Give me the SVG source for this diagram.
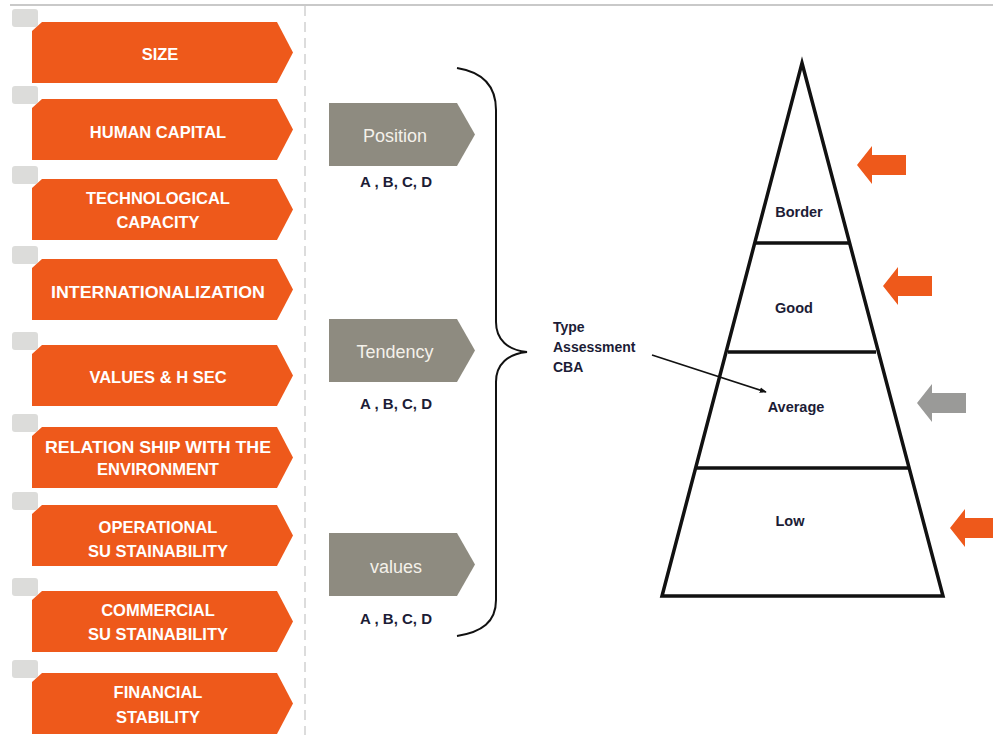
<svg xmlns="http://www.w3.org/2000/svg" width="993" height="735" viewBox="0 0 993 735">
  <defs>
    <style>
      .cat { fill: #ee591b; }
      .tab { fill: #dcdcda; }
      .crit { fill: #8e8b80; }
      .cat-t { font-family: "Liberation Sans", Arial, sans-serif; font-weight: bold; font-size: 16.5px; fill: #ffffff; text-anchor: middle; }
      .crit-t { font-family: "Liberation Sans", Arial, sans-serif; font-size: 18px; fill: #f4f1ea; text-anchor: middle; }
      .grade { font-family: "Liberation Sans", Arial, sans-serif; font-weight: bold; font-size: 15px; fill: #1c1c36; text-anchor: middle; }
      .lbl { font-family: "Liberation Sans", Arial, sans-serif; font-weight: bold; font-size: 14px; fill: #1c1c36; }
      .lvl { font-family: "Liberation Sans", Arial, sans-serif; font-weight: bold; font-size: 14.5px; fill: #1c1c36; text-anchor: middle; }
      .ink { fill: none; stroke: #111111; }
    </style>
    <!-- category chevron, 261 x 61, chamfered top-left corner -->
    <path id="chev" d="M10 0 H245 L261 30.5 L245 61 H0 V9 Z"/>
    <!-- small grey index tab behind each chevron -->
    <rect id="tabShape" x="-20" y="-13" width="26" height="18" rx="3"/>
    <!-- criterion chevron -->
    <path id="crit" d="M0 0 H128 L146 31.5 L128 63 H0 Z"/>
    <!-- left-pointing block arrow -->
    <path id="blk" d="M0 0 L15 -19 V-10 H49 V10 H15 V19 Z"/>
    <marker id="head" viewBox="0 0 10 10" refX="9" refY="5" markerWidth="7" markerHeight="7" orient="auto" markerUnits="userSpaceOnUse">
      <path d="M0 1 L10 5 L0 9 Z" fill="#111111"/>
    </marker>
  </defs>

  <rect width="993" height="735" fill="#ffffff"/>

  <!-- frame lines -->
  <line x1="10" y1="5" x2="993" y2="5" stroke="#c9c9c9" stroke-width="2"/>
  <line x1="305" y1="6" x2="305" y2="735" stroke="#dcdcdc" stroke-width="2" stroke-dasharray="10 6"/>

  <!-- category chevrons -->
  <g id="cat-size" transform="translate(32,22)">
    <use href="#tabShape" class="tab"/><use href="#chev" class="cat"/>
    <text class="cat-t" x="128" y="38">SIZE</text>
  </g>
  <g id="cat-human" transform="translate(32,99)">
    <use href="#tabShape" class="tab"/><use href="#chev" class="cat"/>
    <text class="cat-t" x="126" y="39">HUMAN CAPITAL</text>
  </g>
  <g id="cat-tech" transform="translate(32,179)">
    <use href="#tabShape" class="tab"/><use href="#chev" class="cat"/>
    <text class="cat-t" x="126" y="25">TECHNOLOGICAL</text>
    <text class="cat-t" x="126" y="49">CAPACITY</text>
  </g>
  <g id="cat-intl" transform="translate(32,259)">
    <use href="#tabShape" class="tab"/><use href="#chev" class="cat"/>
    <text class="cat-t" x="126" y="39" textLength="214" lengthAdjust="spacingAndGlyphs">INTERNATIONALIZATION</text>
  </g>
  <g id="cat-values" transform="translate(32,345)">
    <use href="#tabShape" class="tab"/><use href="#chev" class="cat"/>
    <text class="cat-t" x="126" y="38">VALUES &amp; H SEC</text>
  </g>
  <g id="cat-env" transform="translate(32,427)">
    <use href="#tabShape" class="tab"/><use href="#chev" class="cat"/>
    <text class="cat-t" x="126" y="26" textLength="226" lengthAdjust="spacingAndGlyphs">RELATION SHIP WITH THE</text>
    <text class="cat-t" x="126" y="48">ENVIRONMENT</text>
  </g>
  <g id="cat-oper" transform="translate(32,505)">
    <use href="#tabShape" class="tab"/><use href="#chev" class="cat"/>
    <text class="cat-t" x="126" y="28">OPERATIONAL</text>
    <text class="cat-t" x="126" y="52">SU STAINABILITY</text>
  </g>
  <g id="cat-comm" transform="translate(32,591)">
    <use href="#tabShape" class="tab"/><use href="#chev" class="cat"/>
    <text class="cat-t" x="126" y="25">COMMERCIAL</text>
    <text class="cat-t" x="126" y="49">SU STAINABILITY</text>
  </g>
  <g id="cat-fin" transform="translate(32,673)">
    <use href="#tabShape" class="tab"/><use href="#chev" class="cat"/>
    <text class="cat-t" x="126" y="25">FINANCIAL</text>
    <text class="cat-t" x="126" y="50">STABILITY</text>
  </g>

  <!-- criteria -->
  <g id="crit-position" transform="translate(329,103)">
    <use href="#crit" class="crit"/>
    <text class="crit-t" x="66" y="39">Position</text>
    <text class="grade" x="67" y="84">A , B, C, D</text>
  </g>
  <g id="crit-tendency" transform="translate(329,319)">
    <use href="#crit" class="crit"/>
    <text class="crit-t" x="66" y="39">Tendency</text>
    <text class="grade" x="67" y="90">A , B, C, D</text>
  </g>
  <g id="crit-values" transform="translate(329,533)">
    <use href="#crit" class="crit"/>
    <text class="crit-t" x="67" y="40">values</text>
    <text class="grade" x="67" y="91">A , B, C, D</text>
  </g>

  <!-- assessment label -->
  <g id="assessment">
    <text class="lbl" x="553" y="332">Type</text>
    <text class="lbl" x="553" y="352">Assessment</text>
    <text class="lbl" x="553" y="372">CBA</text>
  </g>

  <!-- level pyramid -->
  <g id="pyramid">
    <path d="M802 63 L943 596 H662 Z" fill="#ffffff" stroke="#111111" stroke-width="3.5" stroke-linejoin="miter"/>
    <line x1="756" y1="243" x2="849" y2="243" stroke="#111111" stroke-width="3.5"/>
    <line x1="728" y1="352" x2="876" y2="352" stroke="#111111" stroke-width="3.5"/>
    <line x1="697" y1="468" x2="908" y2="468" stroke="#111111" stroke-width="3.5"/>
    <text class="lvl" x="799" y="217">Border</text>
    <text class="lvl" x="794" y="313">Good</text>
    <text class="lvl" x="796" y="412">Average</text>
    <text class="lvl" x="790" y="526">Low</text>
  </g>

  <!-- level markers -->
  <g id="markers">
    <use href="#blk" x="857" y="165" fill="#ee591b"/>
    <use href="#blk" x="883" y="286" fill="#ee591b"/>
    <use href="#blk" x="917" y="403" fill="#9a9a98"/>
    <use href="#blk" x="950" y="528" fill="#ee591b"/>
  </g>

  <!-- connectors -->
  <g id="connectors">
    <path class="ink" stroke-width="2" d="M457 68 C482 72 496 86 496 110 V322 C496 340 508 350 527 352 C508 354 496 364 496 382 V600 C496 622 482 632 457 636"/>
    <line class="ink" stroke-width="1.6" x1="652" y1="355" x2="766" y2="392" marker-end="url(#head)"/>
  </g>
</svg>
